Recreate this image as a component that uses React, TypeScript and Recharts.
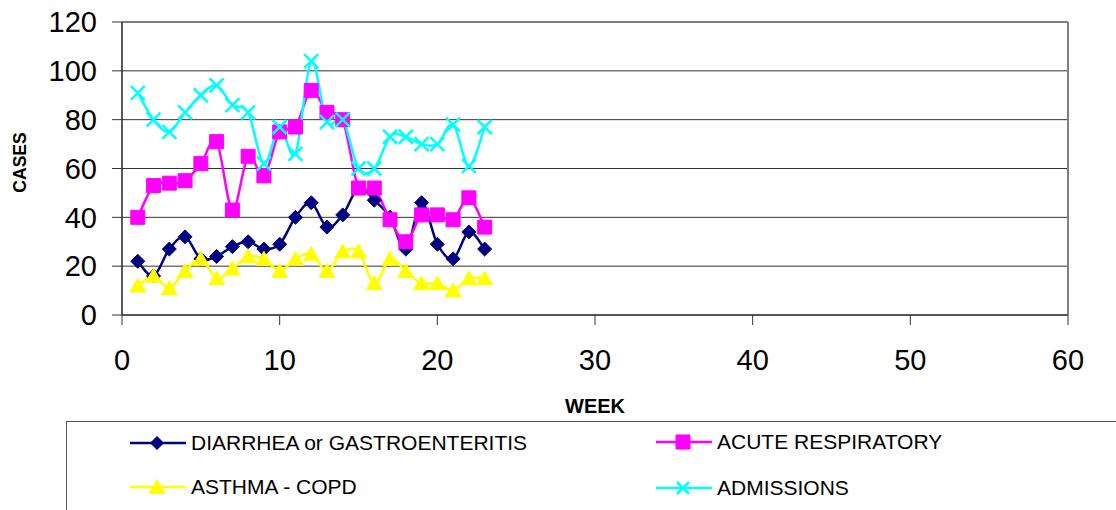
import React from "react";
import { LineChart, Line, XAxis, YAxis, CartesianGrid, ReferenceLine, Label } from "recharts";

const weeks = [1, 2, 3, 4, 5, 6, 7, 8, 9, 10, 11, 12, 13, 14, 15, 16, 17, 18, 19, 20, 21, 22, 23];
const diarrhea = [22, 16, 27, 32, 23, 24, 28, 30, 27, 29, 40, 46, 36, 41, 52, 47, 40, 27, 46, 29, 23, 34, 27];
const acuteRespiratory = [40, 53, 54, 55, 62, 71, 43, 65, 57, 75, 77, 92, 83, 80, 52, 52, 39, 30, 41, 41, 39, 48, 36];
const asthmaCopd = [12, 16, 11, 18, 23, 15, 19, 24, 23, 18, 23, 25, 18, 26, 26, 13, 23, 18, 13, 13, 10, 15, 15];
const admissions = [91, 80, 75, 83, 90, 94, 86, 83, 62, 77, 66, 104, 79, 80, 60, 60, 73, 73, 70, 70, 78, 61, 77];

const xTicks = [0, 10, 20, 30, 40, 50, 60];
const yTicks = [0, 20, 40, 60, 80, 100, 120];

const seriesNames = {
  diarrhea: "DIARRHEA or GASTROENTERITIS",
  acute: "ACUTE RESPIRATORY",
  asthma: "ASTHMA - COPD",
  admissions: "ADMISSIONS",
};

const data = weeks.map((w, i) => ({
  week: w,
  diarrhea: diarrhea[i],
  acute: acuteRespiratory[i],
  asthma: asthmaCopd[i],
  admissions: admissions[i],
}));

const FONT = '"Liberation Sans", Arial, sans-serif';
const NAVY = "#000080";
const MAGENTA = "#FF00FF";
const YELLOW = "#FFFF00";
const CYAN = "#00FFFF";

// Catmull-Rom style smoothing (like Excel smoothed lines)
const smoothCurve: any = (ctx: any) => {
  let pts: number[][] = [];
  return {
    areaStart() {},
    areaEnd() {},
    lineStart() {
      pts = [];
    },
    point(x: number, y: number) {
      pts.push([+x, +y]);
    },
    lineEnd() {
      const n = pts.length;
      if (!n) return;
      ctx.moveTo(pts[0][0], pts[0][1]);
      for (let i = 0; i < n - 1; i++) {
        const p0 = pts[i - 1] || pts[i];
        const p1 = pts[i];
        const p2 = pts[i + 1];
        const p3 = pts[i + 2] || p2;
        ctx.bezierCurveTo(
          p1[0] + (p2[0] - p0[0]) / 6,
          p1[1] + (p2[1] - p0[1]) / 6,
          p2[0] - (p3[0] - p1[0]) / 6,
          p2[1] - (p3[1] - p1[1]) / 6,
          p2[0],
          p2[1]
        );
      }
    },
  };
};

const shapePath = (kind: string, cx: number, cy: number, s: number) => {
  if (kind === "diamond") {
    return `M${cx},${cy - s}L${cx + s},${cy}L${cx},${cy + s}L${cx - s},${cy}Z`;
  }
  if (kind === "square") {
    return `M${cx - s},${cy - s}H${cx + s}V${cy + s}H${cx - s}Z`;
  }
  if (kind === "triangle") {
    return `M${cx},${cy - s}L${cx + s * 1.05},${cy + s * 0.85}L${cx - s * 1.05},${cy + s * 0.85}Z`;
  }
  return "";
};

const Marker = ({ kind, color, cx, cy, s }: any) => {
  if (kind === "x") {
    return (
      <g>
        <line x1={cx - s} y1={cy - s} x2={cx + s} y2={cy + s} stroke={color} strokeWidth={2.5} />
        <line x1={cx - s} y1={cy + s} x2={cx + s} y2={cy - s} stroke={color} strokeWidth={2.5} />
      </g>
    );
  }
  return <path d={shapePath(kind, cx, cy, s)} fill={color} stroke={color} strokeWidth={1} />;
};

const makeDot = (kind: string, color: string, s: number) => (props: any) => {
  const { cx, cy, index } = props;
  if (cx == null || cy == null) return <g key={`${kind}-${index}`} />;
  return (
    <g key={`${kind}-${index}`}>
      <Marker kind={kind} color={color} cx={cx} cy={cy} s={s} />
    </g>
  );
};

const legendItems = [
  { name: seriesNames.diarrhea, kind: "diamond", color: NAVY, s: 6.5, left: 130, top: 443 },
  { name: seriesNames.acute, kind: "square", color: MAGENTA, s: 7, left: 656, top: 442 },
  { name: seriesNames.asthma, kind: "triangle", color: YELLOW, s: 7.5, left: 130, top: 487 },
  { name: seriesNames.admissions, kind: "x", color: CYAN, s: 6, left: 656, top: 488 },
];

export default function App() {
  return (
    <div
      style={{
        position: "absolute",
        left: 0,
        top: 0,
        width: 1116,
        height: 510,
        overflow: "hidden",
        background: "#fff",
        fontFamily: FONT,
      }}
    >
      <LineChart
        width={1116}
        height={510}
        data={data}
        margin={{ top: 22, right: 48, left: 0, bottom: 0 }}
      >
        <CartesianGrid horizontal vertical={false} stroke="#333" strokeWidth={1} />
        <XAxis
          dataKey="week"
          type="number"
          domain={[0, 60]}
          ticks={xTicks}
          interval={0}
          height={195}
          tickSize={10}
          tickMargin={24}
          axisLine={{ stroke: "#555", strokeWidth: 2 }}
          tickLine={{ stroke: "#333", strokeWidth: 1 }}
          tick={{ fill: "#000", fontSize: 29, fontFamily: FONT }}
        >
          <Label
            content={(p: any) => {
              const vb = p.viewBox || {};
              return (
                <text
                  x={vb.x + vb.width / 2}
                  y={vb.y + 91}
                  textAnchor="middle"
                  dominantBaseline="central"
                  fontFamily={FONT}
                  fontWeight="bold"
                  fontSize={20}
                  fill="#000"
                >
                  WEEK
                </text>
              );
            }}
          />
        </XAxis>
        <YAxis
          type="number"
          domain={[0, 120]}
          ticks={yTicks}
          interval={0}
          width={122}
          tickSize={10}
          tickMargin={15}
          axisLine={{ stroke: "#222", strokeWidth: 1.5 }}
          tickLine={{ stroke: "#333", strokeWidth: 1 }}
          tick={{ fill: "#000", fontSize: 29, fontFamily: FONT }}
        >
          <Label
            content={(p: any) => {
              const vb = p.viewBox || {};
              const x = 20;
              const y = vb.y + vb.height / 2 - 6;
              return (
                <text
                  x={x}
                  y={y}
                  transform={`rotate(-90, ${x}, ${y})`}
                  textAnchor="middle"
                  dominantBaseline="central"
                  fontFamily={FONT}
                  fontWeight="bold"
                  fontSize={17.5}
                  fill="#000"
                >
                  CASES
                </text>
              );
            }}
          />
        </YAxis>
        <ReferenceLine y={120} stroke="#808080" strokeWidth={2} ifOverflow="extendDomain" />
        <ReferenceLine x={60} stroke="#808080" strokeWidth={2} ifOverflow="extendDomain" />
        <Line
          dataKey="diarrhea"
          name={seriesNames.diarrhea}
          type={smoothCurve}
          stroke={NAVY}
          strokeWidth={2.5}
          dot={makeDot("diamond", NAVY, 7)}
          activeDot={false}
          isAnimationActive={false}
        />
        <Line
          dataKey="acute"
          name={seriesNames.acute}
          type={smoothCurve}
          stroke={MAGENTA}
          strokeWidth={2.5}
          dot={makeDot("square", MAGENTA, 7)}
          activeDot={false}
          isAnimationActive={false}
        />
        <Line
          dataKey="asthma"
          name={seriesNames.asthma}
          type={smoothCurve}
          stroke={YELLOW}
          strokeWidth={2.5}
          dot={makeDot("triangle", YELLOW, 7.5)}
          activeDot={false}
          isAnimationActive={false}
        />
        <Line
          dataKey="admissions"
          name={seriesNames.admissions}
          type={smoothCurve}
          stroke={CYAN}
          strokeWidth={2.5}
          dot={makeDot("x", CYAN, 7)}
          activeDot={false}
          isAnimationActive={false}
        />
      </LineChart>
      <div
        style={{
          position: "absolute",
          left: 66,
          top: 421,
          width: 1100,
          height: 200,
          border: "1px solid #555",
          boxSizing: "border-box",
        }}
      />
      {legendItems.map((it) => (
        <div
          key={it.name}
          style={{
            position: "absolute",
            left: it.left,
            top: it.top - 12,
            height: 24,
            display: "flex",
            alignItems: "center",
            whiteSpace: "nowrap",
          }}
        >
          <svg width={56} height={24} style={{ display: "block" }}>
            <line x1={0} y1={12} x2={56} y2={12} stroke={it.color} strokeWidth={2.5} />
            <Marker kind={it.kind} color={it.color} cx={27} cy={12} s={it.s} />
          </svg>
          <span style={{ marginLeft: 5, fontSize: 21, fontFamily: FONT, color: "#000", lineHeight: "24px" }}>
            {it.name}
          </span>
        </div>
      ))}
    </div>
  );
}
